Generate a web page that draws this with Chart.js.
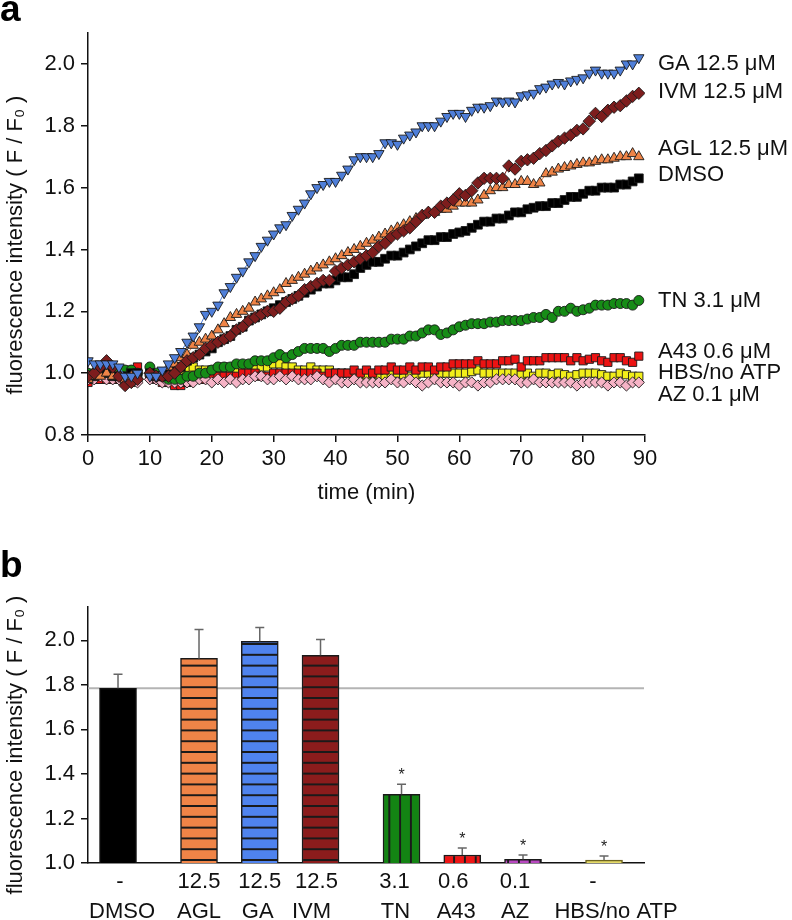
<!DOCTYPE html>
<html><head><meta charset="utf-8">
<script src="https://cdn.jsdelivr.net/npm/chart.js@4.4.0/dist/chart.umd.min.js"></script>
<style>
html,body{margin:0;padding:0;background:#fff;}
#wrap{position:relative;width:792px;height:920px;overflow:hidden;font-family:"Liberation Sans",Arial,sans-serif;}
#c1{position:absolute;left:0;top:0;}
#c2{position:absolute;left:0;top:520px;}
.panel{position:absolute;font-weight:bold;font-size:37px;line-height:37px;color:#000;}
</style></head>
<body><div id="wrap">
<canvas id="c1" width="792" height="520"></canvas>
<canvas id="c2" width="792" height="400"></canvas>
<div class="panel" style="left:0;top:-10px">a</div>
<div class="panel" style="left:0;top:546px">b</div>
</div>
<script>
// ---------- panel a data ----------
const timeMin = [0,1,2,3,4,5,6,7,8,
 10,11,12,13,14,15,16,17,18,19,20,21,22,23,24,25,26,27,28,29,30,31,32,33,34,35,36,37,38,39,
 40,41,42,43,44,45,46,47,48,49,50,51,52,53,54,55,56,57,58,59,60,61,62,63,64,65,66,67,68,69,
 70,71,72,73,74,75,76,77,78,79,80,81,82,83,84,85,86,87,88,89];
const gaVals = [1.04,1.03,1.03,1.03,1.03,1.02,0.99,0.99,1.00,
 0.99,0.99,1.01,1.03,1.05,1.07,1.10,1.12,1.15,1.19,
 1.20,1.22,1.26,1.28,1.31,1.33,1.36,1.38,1.41,1.43,
 1.45,1.47,1.48,1.51,1.53,1.55,1.58,1.60,1.61,1.62,
 1.62,1.64,1.66,1.69,1.70,1.70,1.70,1.71,1.745,1.745,
 1.74,1.76,1.77,1.78,1.80,1.80,1.80,1.815,1.83,1.84,
 1.84,1.83,1.85,1.86,1.86,1.865,1.88,1.877,1.88,1.877,
 1.897,1.90,1.905,1.92,1.925,1.935,1.94,1.935,1.945,1.95,
 1.955,1.97,1.98,1.97,1.97,1.97,1.98,2.00,2.00,2.02];
const ivmVals = [0.99,1.00,1.02,1.04,1.02,0.99,0.96,0.97,0.98,
 1.00,0.99,0.99,0.99,1.00,1.02,1.04,1.05,1.06,1.08,
 1.09,1.10,1.11,1.12,1.14,1.15,1.17,1.18,1.19,1.20,
 1.20,1.21,1.23,1.24,1.25,1.27,1.28,1.29,1.30,1.30,
 1.33,1.34,1.35,1.36,1.37,1.38,1.39,1.41,1.42,1.44,
 1.45,1.46,1.47,1.49,1.51,1.52,1.52,1.54,1.55,1.56,
 1.58,1.575,1.59,1.615,1.63,1.63,1.63,1.63,1.67,1.66,
 1.685,1.69,1.695,1.71,1.72,1.735,1.75,1.76,1.77,1.785,
 1.79,1.815,1.84,1.83,1.85,1.86,1.865,1.88,1.895,1.905];
const aglVals = [0.98,0.99,0.99,1.00,0.99,0.99,0.98,0.99,0.99,
 1.00,0.99,1.00,1.02,1.03,1.05,1.06,1.09,1.10,1.11,
 1.12,1.14,1.16,1.18,1.19,1.20,1.21,1.23,1.24,1.25,
 1.26,1.27,1.29,1.30,1.31,1.32,1.33,1.34,1.35,1.36,
 1.37,1.38,1.39,1.40,1.41,1.42,1.43,1.44,1.45,1.46,
 1.47,1.48,1.49,1.50,1.51,1.52,1.52,1.53,1.53,1.54,
 1.55,1.55,1.55,1.56,1.575,1.59,1.60,1.60,1.61,1.61,
 1.62,1.62,1.61,1.615,1.645,1.65,1.66,1.665,1.67,1.675,
 1.68,1.68,1.685,1.69,1.69,1.695,1.70,1.70,1.71,1.70];
const dmsoVals = [0.99,0.99,1.00,1.00,0.99,0.99,0.99,1.00,1.00,
 1.00,0.99,0.99,1.00,1.01,1.02,1.04,1.05,1.06,1.07,
 1.08,1.10,1.11,1.12,1.14,1.15,1.17,1.18,1.19,1.20,
 1.21,1.22,1.23,1.24,1.25,1.26,1.27,1.28,1.29,1.29,
 1.30,1.31,1.31,1.32,1.34,1.35,1.36,1.36,1.37,1.38,
 1.38,1.39,1.40,1.41,1.42,1.43,1.43,1.44,1.44,1.45,
 1.455,1.46,1.47,1.48,1.49,1.49,1.50,1.50,1.51,1.52,
 1.52,1.53,1.535,1.54,1.54,1.55,1.55,1.56,1.57,1.57,
 1.58,1.59,1.59,1.60,1.60,1.60,1.61,1.61,1.62,1.63];
const tnVals = [1.00,1.00,1.00,1.01,1.01,1.01,1.01,1.01,1.00,
 1.02,1.00,0.99,0.98,0.98,0.98,0.99,0.99,1.00,1.00,
 1.01,1.02,1.02,1.02,1.03,1.03,1.03,1.04,1.04,1.04,
 1.05,1.06,1.05,1.06,1.07,1.08,1.08,1.08,1.08,1.07,
 1.08,1.09,1.09,1.09,1.10,1.10,1.10,1.10,1.10,1.11,
 1.11,1.11,1.12,1.12,1.13,1.14,1.14,1.125,1.13,1.14,
 1.15,1.155,1.16,1.16,1.16,1.165,1.165,1.17,1.17,1.17,
 1.17,1.175,1.18,1.18,1.19,1.18,1.20,1.20,1.21,1.20,
 1.205,1.21,1.22,1.22,1.22,1.225,1.225,1.225,1.22,1.235];
const a43Vals = [0.97,0.98,0.98,0.98,0.98,0.99,0.99,1.01,1.02,
 0.99,0.98,0.97,0.97,0.96,0.96,0.97,0.98,0.98,0.98,
 0.99,0.99,0.99,0.99,0.99,1.00,1.00,1.00,0.99,0.99,
 1.00,1.00,1.00,1.00,1.00,1.00,1.00,1.00,0.99,1.00,
 1.00,1.00,1.00,1.01,1.00,1.01,1.00,1.01,1.01,1.02,
 1.01,1.01,1.02,1.01,1.02,1.02,1.01,1.02,1.02,1.03,
 1.03,1.03,1.03,1.04,1.03,1.03,1.03,1.04,1.04,1.045,
 1.02,1.04,1.04,1.04,1.05,1.05,1.05,1.05,1.04,1.05,
 1.04,1.045,1.05,1.04,1.035,1.05,1.05,1.04,1.035,1.055];
const hbsVals = [0.98,0.98,0.98,0.99,0.98,0.98,0.97,0.97,0.98,
 0.99,0.99,0.99,1.00,1.00,1.01,1.01,1.02,1.01,1.01,
 1.01,1.01,1.02,1.01,1.01,1.02,1.02,1.02,1.02,1.02,
 1.03,1.03,1.02,1.02,1.01,1.01,1.02,1.01,1.01,1.01,
 1.00,1.00,1.00,1.00,0.99,0.995,1.00,0.995,0.99,0.995,
 1.00,0.995,0.99,0.995,1.00,1.00,0.995,1.00,1.00,1.00,
 1.00,1.00,1.005,1.01,1.00,1.00,1.00,1.00,1.00,1.00,
 0.995,1.00,0.99,1.00,1.00,0.995,1.00,0.995,0.99,0.995,
 1.00,1.00,1.00,0.995,0.99,0.99,1.00,0.995,0.99,0.99];
const azVals = [0.98,0.98,0.99,0.98,0.98,0.98,0.98,0.98,0.97,
 0.98,0.98,0.97,0.97,0.97,0.97,0.97,0.97,0.98,0.98,
 0.97,0.98,0.97,0.98,0.97,0.98,0.98,0.99,0.99,0.98,
 0.98,0.99,0.98,0.99,0.98,0.98,0.98,0.99,0.98,0.97,
 0.98,0.97,0.97,0.98,0.97,0.97,0.97,0.97,0.97,0.98,
 0.97,0.97,0.98,0.97,0.96,0.97,0.98,0.97,0.97,0.97,
 0.96,0.97,0.97,0.96,0.97,0.97,0.98,0.98,0.98,0.98,
 0.97,0.97,0.98,0.97,0.97,0.97,0.97,0.97,0.97,0.96,
 0.97,0.97,0.97,0.97,0.96,0.97,0.97,0.96,0.97,0.97];
const seriesLabels = ['GA 12.5 μM','IVM 12.5 μM','AGL 12.5 μM','DMSO','TN 3.1 μM','A43 0.6 μM','HBS/no ATP','AZ 0.1 μM'];
const yTicksA = [0.8,1.0,1.2,1.4,1.6,1.8,2.0];
const xTicksA = [0,10,20,30,40,50,60,70,80,90];
const yTitle = 'fluorescence intensity ( F / F₀ )';

// ---------- panel b data ----------
const barGroups = [['DMSO'],['AGL','GA','IVM'],['TN','A43','AZ'],['HBS/no ATP']];
const barDoses = ['-','12.5','12.5','12.5','3.1','0.6','0.1','-'];
const barMean = [1.785,1.919,1.996,1.933,1.309,1.036,1.017,1.013];
const barErr  = [0.063,0.130,0.062,0.071,0.045,0.031,0.019,0.018];
const barSig  = [false,false,false,false,true,true,true,true];
const yTicksB = [1.0,1.2,1.4,1.6,1.8,2.0];

const FONT = '"Liberation Sans", Arial, sans-serif';
Chart.defaults.font.family = FONT;
Chart.defaults.color = '#111';
const FS = 22;

// draws the rotated y-axis title (slightly below axis centre, as in the figure)
function yTitlePlugin(shift){
  return { id:'yTitle', afterDraw(chart){
    const {ctx, chartArea} = chart;
    ctx.save();
    ctx.font = FS + 'px ' + FONT; ctx.fillStyle='#111';
    ctx.textAlign='center'; ctx.textBaseline='middle';
    ctx.translate(16, (chartArea.top + chartArea.bottom)/2 + shift);
    ctx.rotate(-Math.PI/2);
    ctx.fillText(yTitle, 0, 0);
    ctx.restore();
  }};
}

// ---------- panel a ----------
const styleA = [
  {c:'#4f7fd9', s:'triangle', rot:180, r:6.0, order:1},
  {c:'#7d1d1d', s:'rectRot', rot:0, r:6.2, order:2},
  {c:'#ef8447', s:'triangle', rot:0, r:6.0, order:3},
  {c:'#000000', s:'rect', rot:0, r:6.2, order:4},
  {c:'#168c16', s:'circle', rot:0, r:5.0, order:5},
  {c:'#ec1313', s:'rect', rot:0, r:5.8, order:7},
  {c:'#f2ee1a', s:'rect', rot:0, r:5.8, order:8},
  {c:'#f6b3c6', s:'rectRot', rot:0, r:5.6, order:6}
];
const valsA = [gaVals, ivmVals, aglVals, dmsoVals, tnVals, a43Vals, hbsVals, azVals];
const labelAt = [2.0, 1.91, 1.725, 1.64, 1.235, 1.07, 1.0, 0.93];

const endLabels = {
  id:'endLabels',
  afterDraw(chart){
    const {ctx, chartArea, scales:{y}} = chart;
    ctx.save();
    ctx.font = FS + 'px ' + FONT;
    ctx.fillStyle = '#111'; ctx.textAlign='left'; ctx.textBaseline='middle';
    seriesLabels.forEach((t,i)=>ctx.fillText(t, chartArea.right + 13, y.getPixelForValue(labelAt[i])));
    ctx.restore();
  }
};

new Chart(document.getElementById('c1'), {
  type:'scatter',
  data:{ datasets: valsA.map((v,i)=>({
    label: seriesLabels[i],
    data: v.map((yv,k)=>({x: timeMin[k], y: yv})),
    showLine:true, borderColor: styleA[i].c, borderWidth:1,
    pointStyle: styleA[i].s, pointRotation: styleA[i].rot, pointRadius: styleA[i].r,
    pointBackgroundColor: styleA[i].c, pointBorderColor:'#1a1a1a', pointBorderWidth:0.9,
    order: styleA[i].order,
    segment:{ borderColor: ctx => (ctx.p1.parsed.x - ctx.p0.parsed.x > 1.5 ? 'rgba(0,0,0,0)' : undefined) }
  }))},
  options:{
    responsive:false, animation:false, devicePixelRatio:1,
    layout:{padding:{left:0,right:147,top:33,bottom:0}},
    plugins:{legend:{display:false}, tooltip:{enabled:false}},
    scales:{
      x:{type:'linear', min:0, max:90,
        afterBuildTicks: s => { s.ticks = xTicksA.map(v=>({value:v})); },
        ticks:{font:{size:FS}, color:'#111', padding:4, maxRotation:0, autoSkip:false},
        grid:{display:true, drawOnChartArea:false, drawTicks:true, tickLength:7, color:'#111', lineWidth:1.5},
        border:{display:true, color:'#111', width:1.5},
        title:{display:true, text:'time (min)', font:{size:FS}, color:'#111', padding:{top:0,bottom:14}},
        afterFit: s => { s.height = 85; }
      },
      y:{type:'linear', min:0.8, max:2.1,
        afterBuildTicks: s => { s.ticks = yTicksA.map(v=>({value:v})); },
        ticks:{font:{size:FS}, color:'#111', padding:6, callback: v => v.toFixed(1)},
        grid:{display:true, drawOnChartArea:false, drawTicks:true, tickLength:7, color:'#111', lineWidth:1.5},
        border:{display:true, color:'#111', width:1.5},
        afterFit: s => { s.width = 88; }
      }
    }
  },
  plugins:[endLabels, yTitlePlugin(11)]
});

// ---------- panel b ----------
const barNames = [].concat(...barGroups);
const barPos = [];
(function(){ let p = 0; barGroups.forEach((g,gi)=>{ if (gi>0) p += 1/3; g.forEach(()=>{ barPos.push(p); p += 1; }); }); })();

function stripes(color, dir){
  const c = document.createElement('canvas'); c.width = 11; c.height = 11;
  const g = c.getContext('2d');
  g.fillStyle = color; g.fillRect(0,0,11,11);
  g.fillStyle = '#1a1a1a';
  if (dir === 'h') g.fillRect(0,0,11,2); else g.fillRect(0,0,2,11);
  const p = g.createPattern(c,'repeat');
  const m = dir === 'h' ? new DOMMatrix([1,0,0,10.8/11,0,4.2]) : new DOMMatrix([10.8/11,0,0,1,-0.5,0]);
  p.setTransform(m);
  return p;
}
const barFill = [
  '#000000',
  stripes('#ef8447','h'), stripes('#4f83ee','h'), stripes('#8b1c1c','h'),
  stripes('#138413','v'), stripes('#ee1515','v'), stripes('#b848c0','v'),
  '#e4da6a'
];
const barBorder = ['#111','#1a1a1a','#1a1a1a','#1a1a1a','#1a1a1a','#1a1a1a','#1a1a1a','#6f6520'];
// small horizontal nudges of the category texts, as typeset in the figure (px)
const doseShift = [2,0,0,-4,-7,-9,-8,-11];
const nameShift = [4,0,-2,-9,-6,-6,-8,12];

const barDecor = {
  id:'barDecor',
  beforeDatasetsDraw(chart){
    const {ctx, chartArea, scales:{y}} = chart;
    const py = y.getPixelForValue(barMean[0]);
    ctx.save(); ctx.strokeStyle='#b4b4b4'; ctx.lineWidth=2;
    ctx.beginPath(); ctx.moveTo(chartArea.left, py); ctx.lineTo(chartArea.right, py); ctx.stroke();
    ctx.restore();
  },
  afterDatasetsDraw(chart){
    const {ctx, chartArea, scales:{x,y}} = chart;
    ctx.save();
    ctx.strokeStyle='#666'; ctx.lineWidth=1.5;
    barMean.forEach((m,i)=>{
      const px = x.getPixelForValue(barPos[i]);
      const p0 = y.getPixelForValue(m), p1 = y.getPixelForValue(m + barErr[i]);
      ctx.beginPath(); ctx.moveTo(px,p0); ctx.lineTo(px,p1);
      ctx.moveTo(px-4.5,p1); ctx.lineTo(px+4.5,p1); ctx.stroke();
      if (barSig[i]) {
        ctx.fillStyle='#222'; ctx.font='16px ' + FONT;
        ctx.textAlign='center'; ctx.textBaseline='alphabetic';
        ctx.fillText('*', px, p1 - 4);
      }
    });
    // category labels (dose line, then name line)
    ctx.fillStyle='#111'; ctx.font = FS + 'px ' + FONT;
    ctx.textAlign='center'; ctx.textBaseline='middle';
    barPos.forEach((p,i)=>{
      const px = x.getPixelForValue(p);
      ctx.fillText(barDoses[i], px + doseShift[i], chartArea.bottom + 19);
      ctx.fillText(barNames[i], px + nameShift[i], chartArea.bottom + 49);
    });
    ctx.restore();
  }
};

new Chart(document.getElementById('c2'), {
  type:'bar',
  data:{ datasets:[{
    data: barMean.map((m,i)=>({x: barPos[i], y: m})),
    backgroundColor: barFill, borderColor: barBorder, borderWidth:1.5, borderSkipped:'bottom',
    barThickness:37
  }]},
  options:{
    responsive:false, animation:false, devicePixelRatio:1,
    layout:{padding:{left:0,right:148,top:87,bottom:0}},
    plugins:{legend:{display:false}, tooltip:{enabled:false}},
    scales:{
      x:{type:'linear', min:-0.494, max:8.658, offset:false,
        afterBuildTicks: s => { s.ticks = barPos.map(v=>({value:v})); },
        ticks:{display:false},
        grid:{display:false, drawTicks:false},
        border:{display:true, color:'#111', width:1.5},
        afterFit: s => { s.height = 57; }
      },
      y:{type:'linear', min:1.0, max:2.15,
        afterBuildTicks: s => { s.ticks = yTicksB.map(v=>({value:v})); },
        ticks:{font:{size:FS}, color:'#111', padding:6, callback: v => v.toFixed(1)},
        grid:{display:true, drawOnChartArea:false, drawTicks:true, tickLength:7, color:'#111', lineWidth:1.5},
        border:{display:true, color:'#111', width:1.5},
        afterFit: s => { s.width = 88; }
      }
    }
  },
  plugins:[barDecor, yTitlePlugin(10)]
});
</script>
</body></html>
